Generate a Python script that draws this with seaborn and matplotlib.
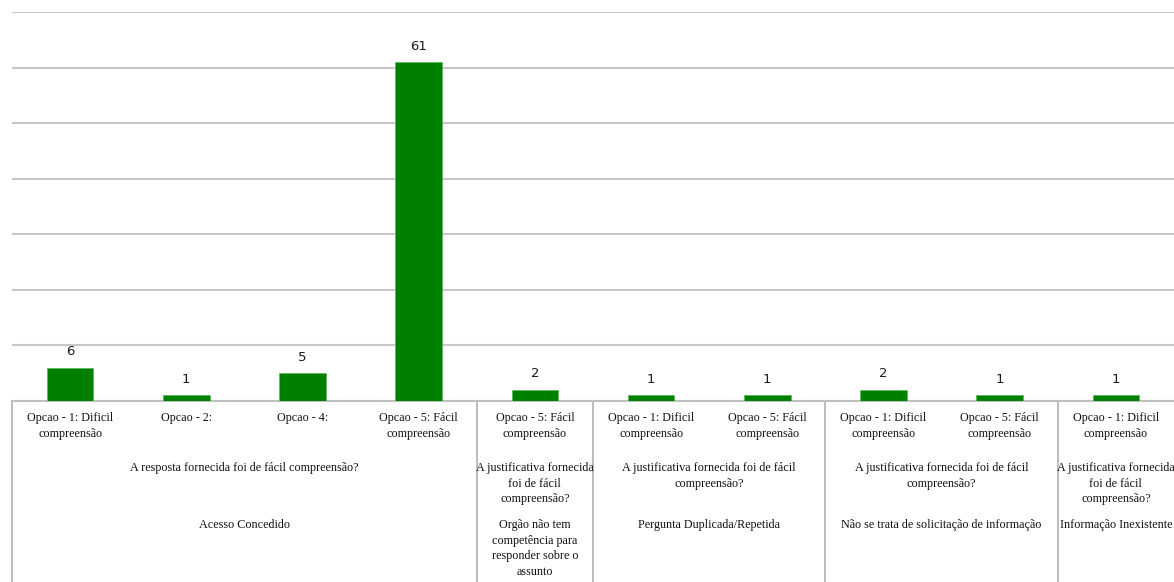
import matplotlib
matplotlib.use("Agg")
import matplotlib.pyplot as plt
import matplotlib.transforms as mtransforms
import seaborn as sns
import pandas as pd

# ---- data ----
option_labels = [
    "Opcao - 1: Dificil\ncompreensão",
    "Opcao - 2:",
    "Opcao - 4:",
    "Opcao - 5: Fácil\ncompreensão",
    "Opcao - 5: Fácil\ncompreensão",
    "Opcao - 1: Dificil\ncompreensão",
    "Opcao - 5: Fácil\ncompreensão",
    "Opcao - 1: Dificil\ncompreensão",
    "Opcao - 5: Fácil\ncompreensão",
    "Opcao - 1: Dificil\ncompreensão",
]
values = [6, 1, 5, 61, 2, 1, 1, 2, 1, 1]

question_labels = [
    "A resposta fornecida foi de fácil compreensão?",
    "A justificativa fornecida\nfoi de fácil\ncompreensão?",
    "A justificativa fornecida foi de fácil\ncompreensão?",
    "A justificativa fornecida foi de fácil\ncompreensão?",
    "A justificativa fornecida\nfoi de fácil\ncompreensão?",
]
status_labels = [
    "Acesso Concedido",
    "Orgão não tem\ncompetência para\nresponder sobre o\nassunto",
    "Pergunta Duplicada/Repetida",
    "Não se trata de solicitação de informação",
    "Informação Inexistente",
]
group_sizes = [4, 1, 2, 2, 1]

# ---- figure ----
W, H = 1174, 582
fig = plt.figure(figsize=(W / 100, H / 100), dpi=100)
sns.set_style("white")
ax = fig.add_axes([12 / W, 1 - 401 / H, 1 - 12 / W, (401 - 12) / H])

df = pd.DataFrame({"pos": list(range(len(values))), "value": values})
sns.barplot(data=df, x="pos", y="value", color="#008000", width=0.4,
            edgecolor="#5cb85c", linewidth=0.6, saturation=1, ax=ax, zorder=3)

ax.set_xlim(-0.5, len(values) - 0.5)
ax.set_ylim(0, 70)
ax.set_yticks(range(0, 71, 10))
ax.yaxis.grid(True, color="#c8c8c8", linewidth=1.5)
ax.set_axisbelow(True)
ax.set_xticks([])
ax.set_yticklabels([])
ax.tick_params(left=False, bottom=False)
ax.set_xlabel("")
ax.set_ylabel("")
for s in ["left", "right", "top"]:
    ax.spines[s].set_visible(False)
ax.spines["bottom"].set_color("#c0c0c0")
ax.spines["bottom"].set_linewidth(1.5)

# value labels
for p, v in zip(ax.patches, values):
    ax.annotate(str(v), (p.get_x() + p.get_width() / 2, p.get_height()),
                xytext=(0, 11.5), textcoords="offset points",
                ha="center", va="center", fontsize=9.5,
                family="DejaVu Sans", color="#1a1a1a")

# category label area
tr = mtransforms.blended_transform_factory(ax.transData, fig.transFigure)
serif = "Liberation Serif"
fs = 8.7
ls = 1.4
for i, lab in enumerate(option_labels):
    ax.text(i, 1 - 412 / H, lab, transform=tr, ha="center", va="top",
            fontsize=fs, family=serif, linespacing=ls, color="#111111")

start = 0
bounds = [-0.5]
for size, q, st in zip(group_sizes, question_labels, status_labels):
    center = start + (size - 1) / 2
    ax.text(center, 1 - 462 / H, q, transform=tr, ha="center", va="top",
            fontsize=fs, family=serif, linespacing=ls, color="#111111")
    ax.text(center, 1 - 519 / H, st, transform=tr, ha="center", va="top",
            fontsize=fs, family=serif, linespacing=ls, color="#111111")
    start += size
    bounds.append(start - 0.5)

for b in bounds[:-1]:
    ax.plot([b, b], [1 - 401 / H, 0], transform=tr, color="#b0b0b0",
            linewidth=1.2, clip_on=False)

fig.savefig("out.png", dpi=100)
